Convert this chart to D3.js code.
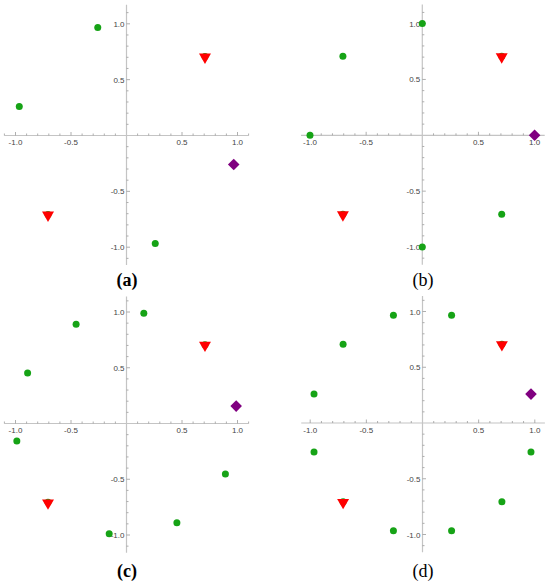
<!DOCTYPE html>
<html><head><meta charset="utf-8">
<script src="https://cdn.jsdelivr.net/npm/d3@7"></script>
<style>body{margin:0;background:#fff}svg{display:block}</style>
</head><body>
<svg id="c" width="550" height="582"></svg>
<script>
// ---- data ----
const panelLabels = ["(a)", "(b)", "(c)", "(d)"];
const xTickLabels = ["-1.0", "-0.5", "0.5", "1.0"];
const yTickLabels = ["1.0", "0.5", "-0.5", "-1.0"];
const majorTicks = [-1, -0.5, 0.5, 1];
const minorTicks = [-1.1,-0.9,-0.8,-0.7,-0.6,-0.4,-0.3,-0.2,-0.1,0.1,0.2,0.3,0.4,0.6,0.7,0.8,0.9,1.1];

// green points (x, y) per panel
const greenA = [[-0.259,0.966],[-0.966,0.259],[0.259,-0.966],[0.707,0.707],[-0.707,-0.707]];
const greenB = [[0,1],[-0.707,0.707],[-1,0],[0,-1],[0.707,-0.707],[0.707,0.707],[-0.707,-0.707]];
const greenC = [[0.156,0.988],[-0.454,0.891],[-0.891,0.454],[-0.988,-0.156],[-0.156,-0.988],[0.454,-0.891],[0.891,-0.454],[0.707,0.707],[-0.707,-0.707]];
const greenD = [[0.259,0.966],[-0.259,0.966],[-0.707,0.707],[-0.966,0.259],[-0.966,-0.259],[-0.259,-0.966],[0.259,-0.966],[0.707,-0.707],[0.966,-0.259],[0.707,0.707],[-0.707,-0.707]];
// red triangles (same in every panel)
const redPts = [[0.707,0.707],[-0.707,-0.707]];
// purple diamond per panel
const purpleA = [[0.966,-0.259]];
const purpleB = [[1,0]];
const purpleC = [[0.988,0.156]];
const purpleD = [[0.966,0.259]];

const greens = [greenA, greenB, greenC, greenD];
const purples = [purpleA, purpleB, purpleC, purpleD];

// ---- layout ----
const layout = [
  {ox:126.5, oy:135.5, ux:111,   uy:111.7, xd:[-1.1,1.1],  yd:[-1.16,1.17], lx:127, ly:286, bold:true},
  {ox:422.3, oy:135.3, ux:112.3, uy:111.7, xd:[-1.08,1.09], yd:[-1.16,1.17], lx:423, ly:286, bold:false},
  {ox:126.5, oy:423.5, ux:111,   uy:111.5, xd:[-1.1,1.1],  yd:[-1.16,1.14], lx:127, ly:577, bold:true},
  {ox:422.5, oy:423.0, ux:112.3, uy:111.5, xd:[-1.08,1.09], yd:[-1.16,1.14], lx:423, ly:577, bold:false}
];

const svg = d3.select("#c");
const green = "#16a316", red = "#ff0000", purple = "#800080";
const axisCol = "#c4c4c4", tickCol = "#9a9a9a", labCol = "#444";

layout.forEach((L, i) => {
  const x = d3.scaleLinear().domain([-1, 1]).range([L.ox - L.ux, L.ox + L.ux]);
  const y = d3.scaleLinear().domain([-1, 1]).range([L.oy + L.uy, L.oy - L.uy]);
  const g = svg.append("g");

  // axes lines
  g.append("line").attr("x1", x(L.xd[0])).attr("x2", x(L.xd[1]))
    .attr("y1", y(0)).attr("y2", y(0)).attr("stroke", axisCol).attr("stroke-width", 1.2);
  g.append("line").attr("y1", y(L.yd[0])).attr("y2", y(L.yd[1]))
    .attr("x1", x(0)).attr("x2", x(0)).attr("stroke", axisCol).attr("stroke-width", 1.2);

  // x ticks (upward)
  g.selectAll(".xmin").data(minorTicks.filter(v => v >= L.xd[0] && v <= L.xd[1])).join("line")
    .attr("x1", d => x(d)).attr("x2", d => x(d)).attr("y1", y(0)).attr("y2", y(0) - 2)
    .attr("stroke", tickCol).attr("stroke-width", 0.8);
  g.selectAll(".xmaj").data(majorTicks).join("line")
    .attr("x1", d => x(d)).attr("x2", d => x(d)).attr("y1", y(0)).attr("y2", y(0) - 3.5)
    .attr("stroke", tickCol).attr("stroke-width", 0.8);
  // y ticks (rightward)
  g.selectAll(".ymin").data(minorTicks.filter(v => v >= L.yd[0] && v <= L.yd[1])).join("line")
    .attr("y1", d => y(d)).attr("y2", d => y(d)).attr("x1", x(0)).attr("x2", x(0) + 2)
    .attr("stroke", tickCol).attr("stroke-width", 0.8);
  g.selectAll(".ymaj").data(majorTicks).join("line")
    .attr("y1", d => y(d)).attr("y2", d => y(d)).attr("x1", x(0)).attr("x2", x(0) + 3.5)
    .attr("stroke", tickCol).attr("stroke-width", 0.8);

  // tick labels
  g.selectAll(".xl").data(majorTicks).join("text")
    .attr("x", d => x(d)).attr("y", y(0) + 9.5)
    .attr("text-anchor", "middle").attr("font-family", "Liberation Sans, Arial, sans-serif")
    .attr("font-size", 8).attr("fill", labCol)
    .text((d, j) => xTickLabels[j]);
  g.selectAll(".yl").data(majorTicks).join("text")
    .attr("x", x(0) - 2).attr("y", d => y(d) + 3)
    .attr("text-anchor", "end").attr("font-family", "Liberation Sans, Arial, sans-serif")
    .attr("font-size", 8).attr("fill", labCol)
    .text((d, j) => yTickLabels[3 - j]);

  // green points
  g.selectAll(".gp").data(greens[i]).join("circle")
    .attr("cx", d => x(d[0])).attr("cy", d => y(d[1])).attr("r", 3.5).attr("fill", green);
  // red triangles
  const tri = d3.symbol().type(d3.symbolTriangle).size(62);
  g.selectAll(".rp").data(redPts).join("path")
    .attr("d", tri)
    .attr("transform", d => `translate(${x(d[0])},${y(d[1]) + 0.5}) rotate(180)`)
    .attr("fill", red);
  // purple diamond
  g.selectAll(".pp").data(purples[i]).join("path")
    .attr("d", "M0,-5.8L5.8,0L0,5.8L-5.8,0Z")
    .attr("transform", d => `translate(${x(d[0])},${y(d[1])})`)
    .attr("fill", purple);

  // panel label
  svg.append("text").attr("x", L.lx).attr("y", L.ly)
    .attr("text-anchor", "middle").attr("font-family", "Liberation Serif, serif")
    .attr("font-size", 18).attr("font-weight", L.bold ? "bold" : "normal")
    .attr("fill", "#000").text(panelLabels[i]);
});
</script>
</body></html>
